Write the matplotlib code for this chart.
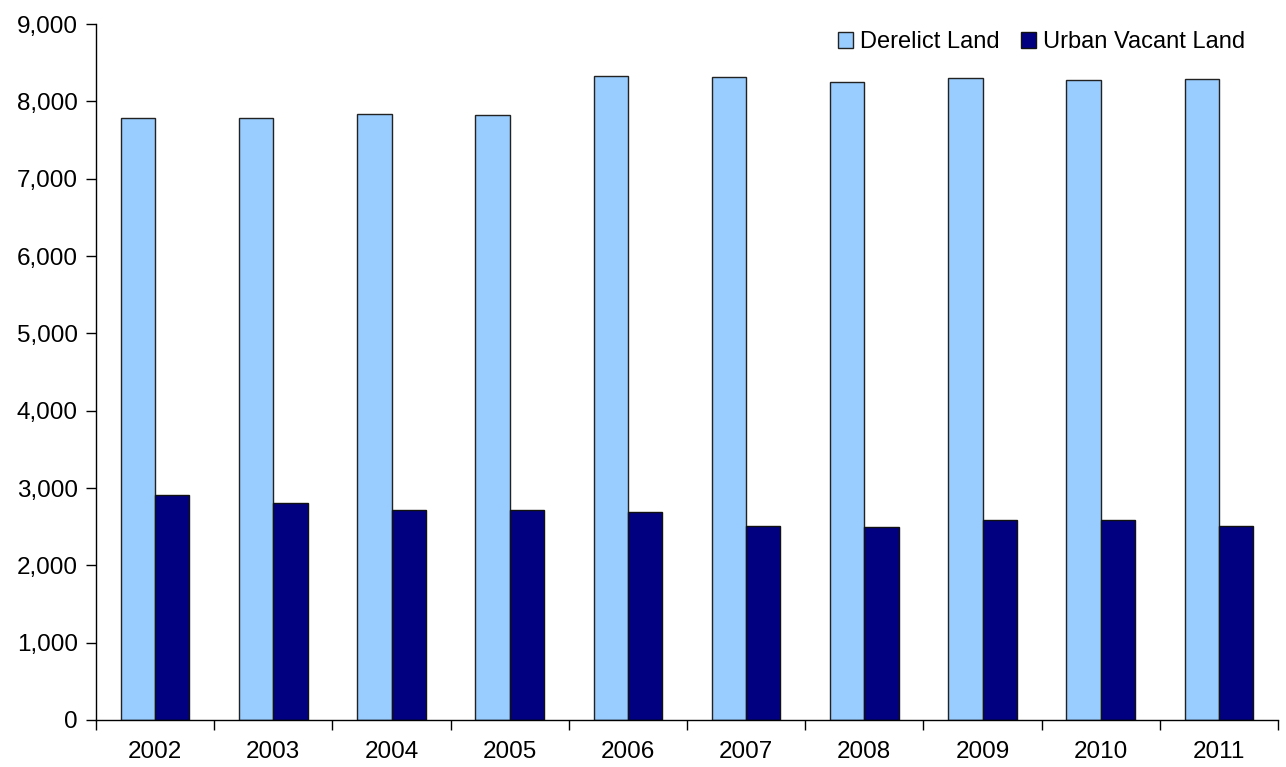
import matplotlib
matplotlib.use("Agg")
import matplotlib.pyplot as plt
import numpy as np
from matplotlib.ticker import FuncFormatter, FixedLocator

years = ["2002", "2003", "2004", "2005", "2006", "2007", "2008", "2009", "2010", "2011"]
derelict_land = [7790, 7790, 7830, 7820, 8330, 8320, 8250, 8300, 8280, 8290]
urban_vacant_land = [2910, 2810, 2710, 2710, 2690, 2510, 2495, 2580, 2580, 2510]

plt.rcParams["font.family"] = ["Liberation Sans", "DejaVu Sans"]

fig = plt.figure(figsize=(12.86, 7.67), dpi=100)
ax = fig.add_axes([96 / 1286, 47 / 767, 1182 / 1286, 696 / 767])

x = np.arange(len(years))
w = 0.29
ax.bar(x - w / 2, derelict_land, w, color="#99ccff", edgecolor="#222222",
       linewidth=1.0, label="Derelict Land")
ax.bar(x + w / 2, urban_vacant_land, w, color="#000080", edgecolor="#111111",
       linewidth=1.0, label="Urban Vacant Land")

ax.set_xlim(-0.5, len(years) - 0.5)
ax.set_ylim(0, 9000)
ax.set_yticks(np.arange(0, 9001, 1000))
ax.yaxis.set_major_formatter(FuncFormatter(lambda v, p: f"{int(v):,}"))

ax.set_xticks(x)
ax.set_xticklabels(years)
ax.xaxis.set_minor_locator(FixedLocator(np.arange(-0.5, len(years), 1.0)))
ax.tick_params(axis="x", which="major", length=0, pad=15, labelsize=17.5)
ax.tick_params(axis="x", which="minor", length=7, width=1, color="black")
ax.tick_params(axis="y", length=7, width=1, labelsize=17.5, pad=6)

for s in ("top", "right"):
    ax.spines[s].set_visible(False)
for s in ("left", "bottom"):
    ax.spines[s].set_linewidth(1.0)

ax.legend(loc="upper right", bbox_to_anchor=(0.9905, 1.02), ncol=2, frameon=False,
          fontsize=17, handlelength=0.65, handleheight=0.65, handletextpad=0.3,
          columnspacing=0.9)

fig.savefig("out.png", dpi=100)
